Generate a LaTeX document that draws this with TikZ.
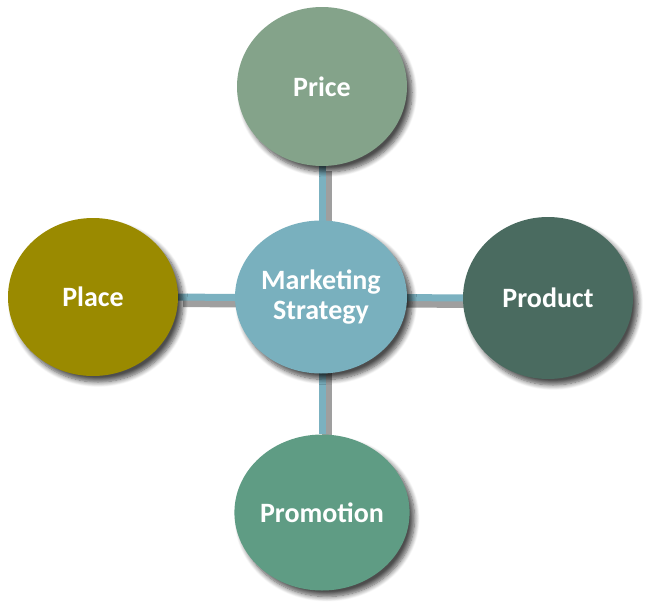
\documentclass[tikz,border=0pt]{standalone}
\usepackage{fontspec}
\setmainfont{Carlito}
\usetikzlibrary{shapes.geometric,shadows.blur}
\pgfdeclarelayer{bg}
\pgfsetlayers{bg,main}
\definecolor{cCenter}{HTML}{79B0BE}
\definecolor{cPrice}{HTML}{84A38A}
\definecolor{cPlace}{HTML}{9A8A00}
\definecolor{cProduct}{HTML}{4A6B60}
\definecolor{cPromo}{HTML}{5F9C84}
\definecolor{cLink}{HTML}{7BB1C0}
\tikzset{
  bubble/.style={ellipse, minimum width=170pt, minimum height=158pt, inner sep=0pt,
    text=white, font=\fontsize{28}{30}\selectfont\bfseries, align=center,
    blur shadow={shadow xshift=5pt, shadow yshift=-6pt, shadow blur steps=8, shadow blur radius=5pt, shadow opacity=70}},
  link/.style={draw=cLink, line width=7pt},
  linkshadow/.style={draw=black!75, opacity=0.5, line width=10pt, transform canvas={xshift=5pt, yshift=-5pt}}
}
\begin{document}
\begin{tikzpicture}[x=1pt, y=-1pt]
\useasboundingbox (0,0) rectangle (653,613);
\node[bubble, fill=cPrice, minimum height=159pt] (price) at (322,86.5) {Price};
\node[bubble, fill=cPlace] (place) at (93,297) {Place};
\node[bubble, fill=cProduct, minimum height=162pt] (product) at (548,298) {Product};
\node[bubble, fill=cPromo, minimum height=156pt] (promo) at (322,512.5) {Promotion};
\node[bubble, fill=cCenter, minimum width=172pt, minimum height=153pt] (center) at (321,297) {Marketing\\Strategy};
\begin{pgfonlayer}{bg}
  \draw[linkshadow] (price) -- (promo);
  \draw[linkshadow] (place) -- (product);
  \draw[link] (price) -- (promo);
  \draw[link] (place) -- (product);
\end{pgfonlayer}
\end{tikzpicture}
\end{document}
